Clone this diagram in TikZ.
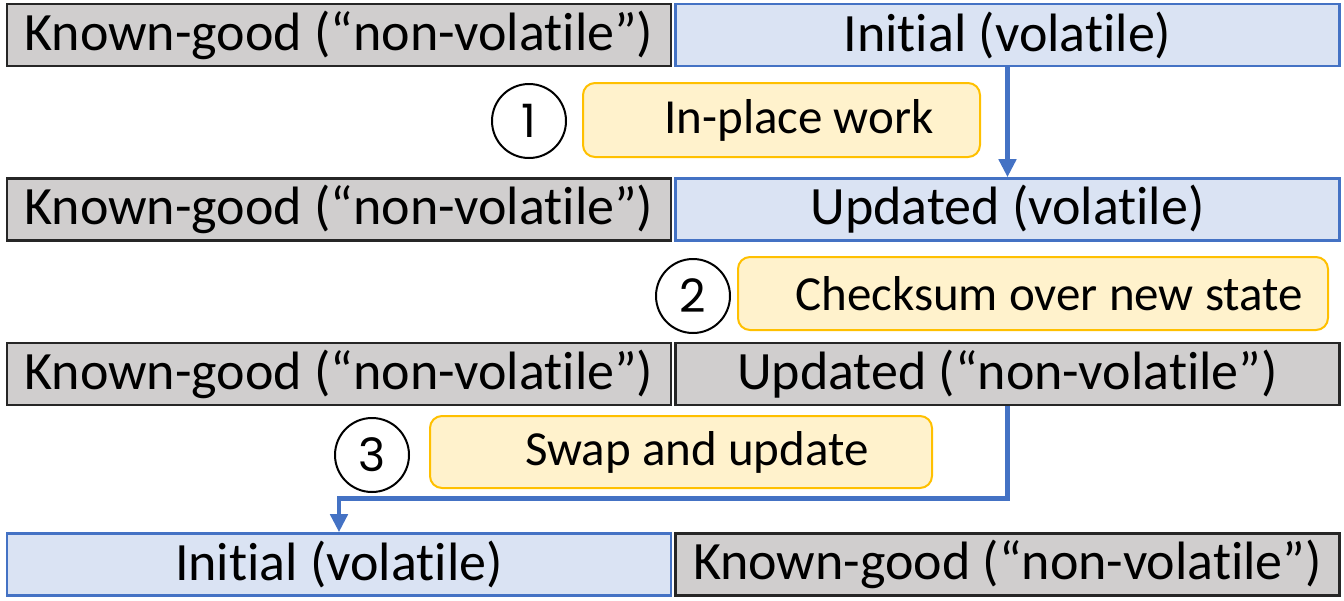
\documentclass[tikz,border=0pt]{standalone}
\usepackage{fontspec}
\setmainfont{Carlito}[Ligatures=NoCommon]
\newfontfamily\digitfont{Poppins}
\usetikzlibrary{arrows.meta}
\definecolor{gfill}{HTML}{D0CECE}
\definecolor{gdraw}{HTML}{262626}
\definecolor{bfill}{HTML}{DAE3F3}
\definecolor{bdraw}{HTML}{4472C4}
\definecolor{yfill}{HTML}{FFF2CC}
\definecolor{ydraw}{HTML}{FFC000}
\begin{document}
\begin{tikzpicture}[x=0.5pt,y=-0.5pt,
  font=\fontsize{27}{31}\selectfont,
  cell/.style={minimum width=332pt, minimum height=31pt, inner sep=0pt, line width=1.3pt},
  good/.style={cell, draw=gdraw, fill=gfill},
  vol/.style={cell, draw=bdraw, fill=bfill},
  stepnum/.style={circle, draw=black, line width=1pt, minimum size=37pt, inner sep=0pt, fill=white,
    font=\digitfont\fontsize{23}{27}\selectfont},
  action/.style={draw=ydraw, fill=yfill, line width=1pt, rounded corners=6pt, inner sep=0pt},
  lbl/.style={inner sep=0pt, font=\fontsize{24.5}{28}\selectfont},
  flow/.style={draw=bdraw, line width=2.4pt, -{Triangle[length=9pt,width=8.5pt]}}]
\useasboundingbox (0,0) rectangle (1344,600);

% row 1
\node[good] (l1) at (339,35) {Known-good (“non-volatile”)};
\node[vol]  (r1) at (1007.5,35) {Initial (volatile)};
% row 2
\node[good] (l2) at (339,209.5) {Known-good (“non-volatile”)};
\node[vol]  (r2) at (1007.5,209.5) {Updated (volatile)};
% row 3
\node[good] (l3) at (339,374) {Known-good (“non-volatile”)};
\node[good] (r3) at (1007.5,374) {Updated (“non-volatile”)};
% row 4
\node[vol]  (l4) at (339,564.5) {Initial (volatile)};
\node[good] (r4) at (1007.5,564.5) {Known-good (“non-volatile”)};

% step 1
\node[stepnum] (c1) at (529,121) {1};
\node[action, minimum width=198.5pt, minimum height=37pt] (a1) at (781.5,120) {};
\node[lbl] (t1) at (799,120) {In-place work};
% step 2
\node[stepnum] (c2) at (693,296) {2};
\node[action, minimum width=295pt, minimum height=36.5pt] (a2) at (1033,293.5) {};
\node[lbl] (t2) at (1049,293.5) {Checksum over new state};
% step 3
\node[stepnum] (c3) at (372,455) {3};
\node[action, minimum width=251pt, minimum height=36pt] (a3) at (681,452) {};
\node[lbl] (t3) at (697,452) {Swap and update};

% transitions
\draw[flow] (r1.south) -- (r2.north);
\draw[flow] (r3.south) -- ++(0,92) -| (l4.north);
\end{tikzpicture}
\end{document}
